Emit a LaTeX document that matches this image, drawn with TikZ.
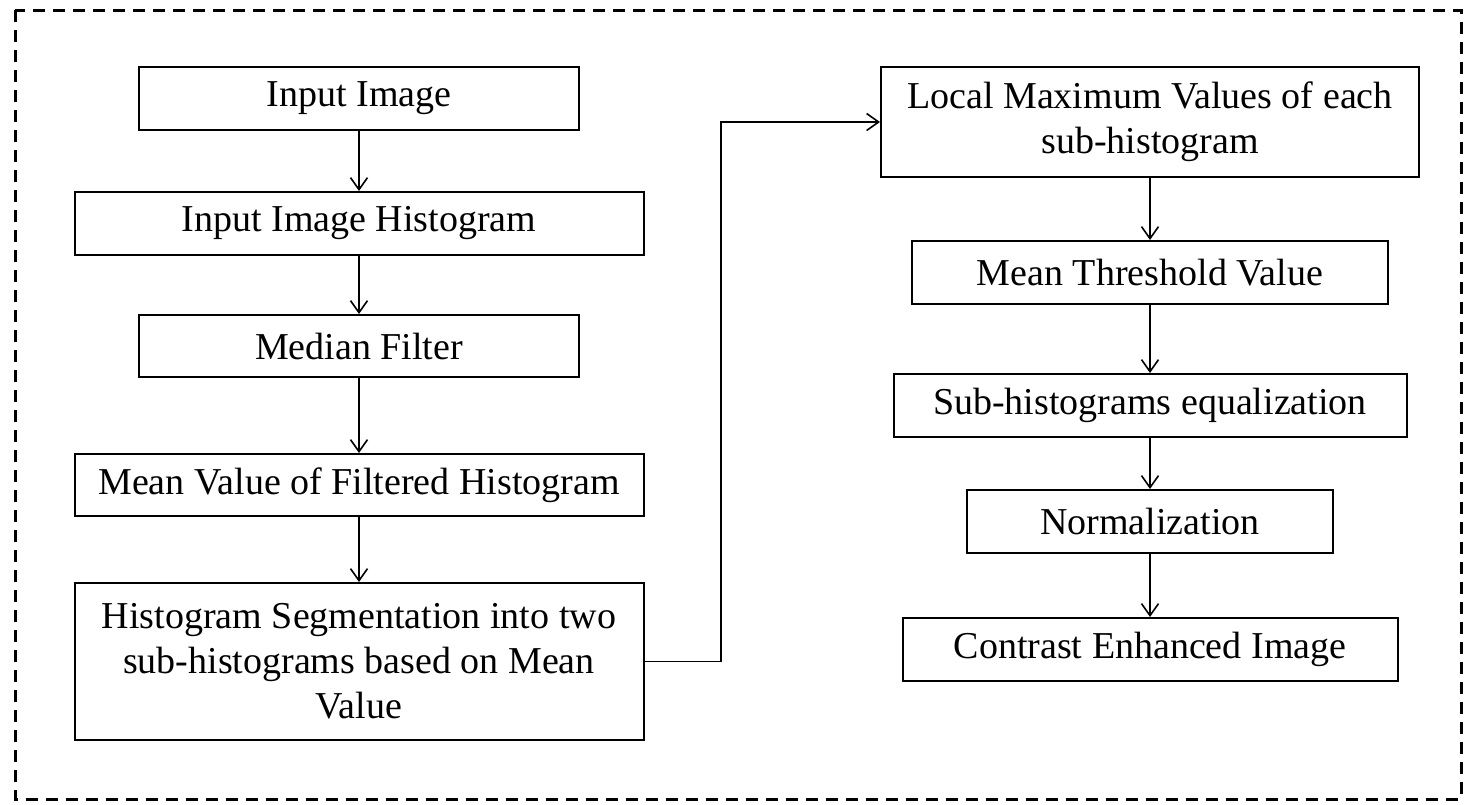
\documentclass[tikz,border=0pt]{standalone}
\usepackage{fontspec}
\setmainfont{Liberation Serif}
\usetikzlibrary{arrows.meta}

\tikzset{
  box/.style={draw=black, line width=2pt, inner sep=0pt, align=center,
              font=\fontsize{38}{45}\selectfont},
  arr/.style={draw=black, line width=1.6pt,
              -{Straight Barb[length=12pt,width=17pt]}},
  frame/.style={draw=black, line width=3pt, dash pattern=on 12pt off 8pt}
}

\begin{document}
\begin{tikzpicture}[x=1pt, y=-1pt]
  \useasboundingbox (0,0) rectangle (1468,804);

  % outer dashed frame
  \draw[frame] (15,10) rectangle (1461,799);

  % left column
  \node[box, minimum width=440pt, minimum height=63pt]  (l1) at (359,98.5)  {Input Image};
  \node[box, minimum width=569pt, minimum height=63pt]  (l2) at (359,223.5) {Input Image Histogram};
  \node[box, minimum width=440pt, minimum height=62pt]  (l3) at (359,346)   {Median Filter};
  \node[box, minimum width=569pt, minimum height=62pt]  (l4) at (359,485)   {Mean Value of Filtered Histogram};
  \node[box, minimum width=569pt, minimum height=157pt] (l5) at (359,661.5) {Histogram Segmentation into two\\sub-histograms based on Mean\\Value};

  % right column
  \node[box, minimum width=538pt, minimum height=110pt] (r1) at (1150,122)   {Local Maximum Values of each\\sub-histogram};
  \node[box, minimum width=476pt, minimum height=63pt]  (r2) at (1150,272.5) {Mean Threshold Value};
  \node[box, minimum width=513pt, minimum height=63pt]  (r3) at (1150,405.5) {Sub-histograms equalization};
  \node[box, minimum width=366pt, minimum height=63pt]  (r4) at (1150,521.5) {Normalization};
  \node[box, minimum width=495pt, minimum height=63pt]  (r5) at (1150,649.5) {Contrast Enhanced Image};

  % connectors
  \draw[arr] (l1.south) -- (l2.north);
  \draw[arr] (l2.south) -- (l3.north);
  \draw[arr] (l3.south) -- (l4.north);
  \draw[arr] (l4.south) -- (l5.north);

  \coordinate (turn) at (721,0);
  \draw[arr] (l5.east) -- (l5.east -| turn) |- (r1.west);

  \draw[arr] (r1.south) -- (r2.north);
  \draw[arr] (r2.south) -- (r3.north);
  \draw[arr] (r3.south) -- (r4.north);
  \draw[arr] (r4.south) -- (r5.north);
\end{tikzpicture}
\end{document}
